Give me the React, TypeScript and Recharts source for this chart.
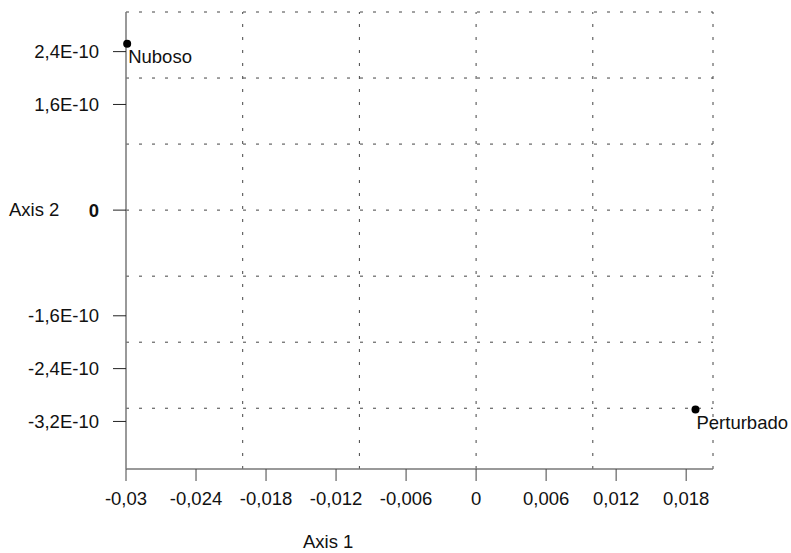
import React from 'react';
import {
  ScatterChart,
  Scatter,
  XAxis,
  YAxis,
  ReferenceLine,
  Label,
} from 'recharts';

const pointNames = ['Nuboso', 'Perturbado'];
const pointX = [-0.0299, 0.0188];
const pointY = [2.52e-10, -3.02e-10];

const xTicks = [-0.03, -0.024, -0.018, -0.012, -0.006, 0, 0.006, 0.012, 0.018];
const xTickLabels = ['-0,03', '-0,024', '-0,018', '-0,012', '-0,006', '0', '0,006', '0,012', '0,018'];
const yTicks = [2.4e-10, 1.6e-10, 0, -1.6e-10, -2.4e-10, -3.2e-10];
const yTickLabels = ['2,4E-10', '1,6E-10', '0', '-1,6E-10', '-2,4E-10', '-3,2E-10'];

const xGrid = [-0.02, -0.01, 0, 0.01];
const yGrid = [3e-10, 2e-10, 1e-10, 0, -1e-10, -2e-10, -3e-10];

const xDomain = [-0.03, 0.0203];
const yDomain = [-3.92e-10, 3e-10];

const points = pointNames.map((name, i) => ({ name, x: pointX[i], y: pointY[i] }));

const FONT = '"Liberation Sans", Arial, sans-serif';
const FS = 18.5;
const gridStyle = { stroke: '#444', strokeWidth: 1, strokeDasharray: '3 10' };

const XTick = (props: any) => {
  const { x, y, payload } = props;
  const i = xTicks.indexOf(payload.value);
  return (
    <text x={x} y={y} dy="0.71em" textAnchor="middle" fontSize={FS} fontFamily={FONT} fill="#111">
      {i >= 0 ? xTickLabels[i] : ''}
    </text>
  );
};

const YTick = (props: any) => {
  const { x, y, payload } = props;
  const i = yTicks.indexOf(payload.value);
  return (
    <text
      x={x}
      y={y}
      dy="0.355em"
      textAnchor="end"
      fontSize={FS}
      fontFamily={FONT}
      fontWeight={payload.value === 0 ? 'bold' : 'normal'}
      fill="#111"
    >
      {i >= 0 ? yTickLabels[i] : ''}
    </text>
  );
};

const PointShape = (props: any) => {
  const { cx, cy, payload } = props;
  return (
    <g>
      <circle cx={cx} cy={cy} r={4} fill="#000" />
      <text x={cx + 1} y={cy + 19} fontSize={FS} fontFamily={FONT} fill="#111">
        {payload.name}
      </text>
    </g>
  );
};

export default function App() {
  return (
    <div style={{ position: 'absolute', left: 0, top: 0, width: 791, height: 553, background: '#fff' }}>
      <ScatterChart width={791} height={553} margin={{ top: 12, right: 78, bottom: 0, left: 0 }}>
        <XAxis
          type="number"
          dataKey="x"
          domain={xDomain}
          ticks={xTicks}
          height={84}
          tickSize={12}
          tickMargin={11}
          axisLine={{ stroke: '#777', strokeWidth: 1.5 }}
          tickLine={{ stroke: '#444' }}
          tick={<XTick />}
        >
          <Label
            content={(p: any) => (
              <text x={p.viewBox.x + 177} y={p.viewBox.y + 79} fontSize={FS} fontFamily={FONT} fill="#111">
                Axis 1
              </text>
            )}
          />
        </XAxis>
        <YAxis
          type="number"
          dataKey="y"
          domain={yDomain}
          ticks={yTicks}
          width={126}
          tickSize={13}
          tickMargin={14}
          axisLine={{ stroke: '#777', strokeWidth: 1.5 }}
          tickLine={{ stroke: '#222' }}
          tick={<YTick />}
        >
          <Label
            content={(p: any) => (
              <text x={p.viewBox.x + 9} y={p.viewBox.y + 204} fontSize={FS} fontFamily={FONT} fill="#111">
                Axis 2
              </text>
            )}
          />
        </YAxis>
        {[...xGrid, xDomain[1]].map((v) => (
          <ReferenceLine key={'gx' + v} x={v} {...gridStyle} />
        ))}
        {yGrid.map((v) => (
          <ReferenceLine key={'gy' + v} y={v} {...gridStyle} />
        ))}
        <Scatter data={points} isAnimationActive={false} shape={<PointShape />} />
      </ScatterChart>
    </div>
  );
}
